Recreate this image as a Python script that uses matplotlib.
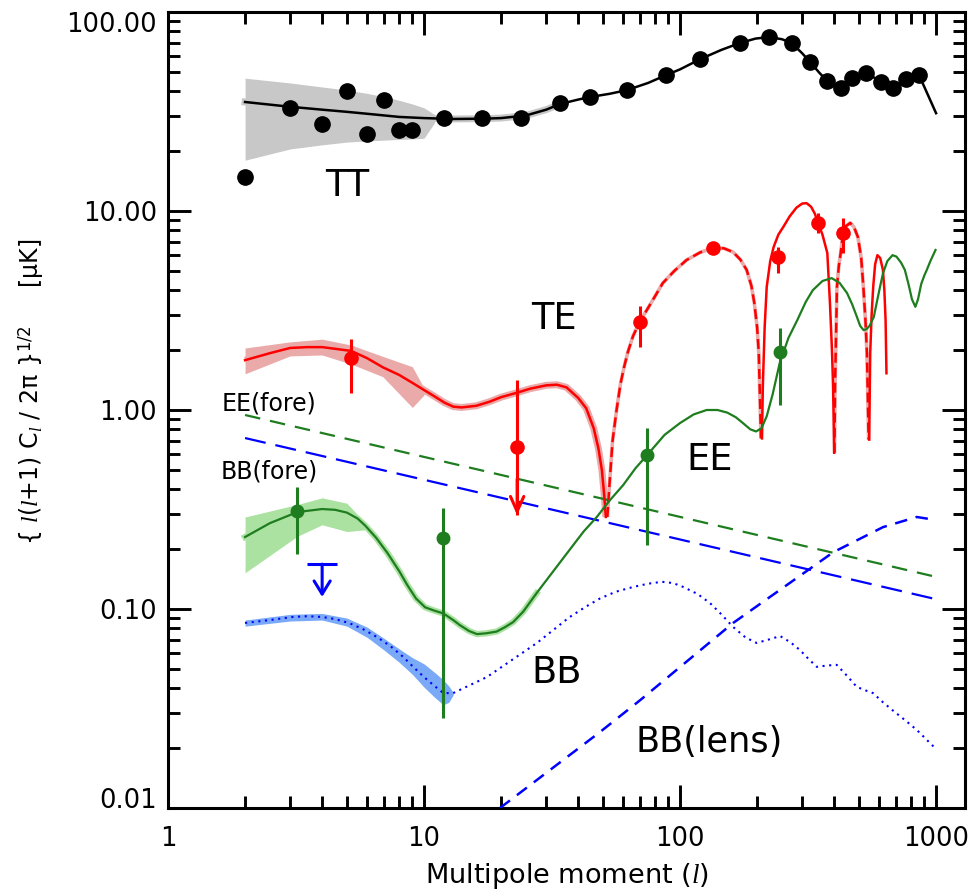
import numpy as np
import matplotlib.pyplot as plt
from matplotlib.ticker import LogLocator, FuncFormatter, NullFormatter

plt.rcParams['font.family'] = ['DejaVu Sans']
plt.rcParams['mathtext.fontset'] = 'custom'
plt.rcParams['mathtext.rm'] = 'DejaVu Sans'
plt.rcParams['mathtext.it'] = 'Liberation Serif:italic'

# --- TT: modelo, faixa e dados ---
tt_curve_l = [2, 3, 4, 5, 6, 8, 10, 13, 17, 20, 25, 30, 34, 40, 44.5, 53, 62, 75, 88.3, 100,
              120, 145, 171, 197, 222, 250, 273, 300, 322, 350, 376, 400, 424, 447, 470, 500,
              533, 570, 610, 645, 679, 720, 763, 810, 858, 1000]
tt_curve_v = [35.3, 33.4, 32.3, 31.5, 30.8, 29.7, 29.3, 29.0, 29.1, 29.3, 30.2, 32.3, 34.5,
              36.3, 37.4, 38.8, 40.5, 44.0, 48.2, 51.5, 58.0, 64.5, 69.8, 73.5, 74.8, 73.0,
              69.8, 62.0, 56.1, 49.5, 45.0, 42.3, 41.5, 44.0, 46.6, 48.5, 49.3, 47.0, 44.5,
              42.3, 41.5, 43.5, 46.0, 47.5, 48.2, 31.0]
tt_band_l = [2, 3, 4, 5, 6, 7, 8, 9, 10, 11]
tt_band_lo = [18.0, 20.5, 21.5, 22.2, 22.5, 22.7, 22.9, 23.0, 23.2, 27.8]
tt_band_hi = [46.5, 44.0, 42.0, 40.5, 39.0, 37.5, 36.0, 34.5, 33.0, 30.5]
tt_data_l = [2, 3, 4, 5, 6, 7, 8, 9, 12, 16.9, 23.9, 34, 44.5, 62, 88.3, 120, 171, 222,
             273, 322, 376, 424, 470, 533, 610, 679, 763, 858]
tt_data_v = [14.8, 33.0, 27.4, 40.1, 24.4, 36.1, 25.5, 25.5, 29.3, 29.3, 29.3, 34.9, 37.4,
             40.5, 48.2, 58.0, 69.8, 74.8, 69.8, 56.1, 45.0, 41.5, 46.6, 49.3, 44.5, 41.5,
             46.0, 48.2]

# --- TE: trechos positivos (cheio) e negativos (tracejado) ---
te_a_l = [2, 2.5, 3, 3.5, 4, 4.5, 5.2, 6, 6.9, 8, 9, 10, 11, 12, 13, 14, 16, 18, 20, 23,
          26, 30, 33, 36, 40, 43, 46, 48, 49.5, 50.5, 51.3]
te_a_v = [1.78, 1.93, 2.05, 2.07, 2.07, 2.03, 1.98, 1.82, 1.64, 1.50, 1.37, 1.26, 1.17,
          1.09, 1.04, 1.03, 1.05, 1.10, 1.16, 1.22, 1.28, 1.33, 1.34, 1.30, 1.15, 1.02,
          0.81, 0.64, 0.50, 0.38, 0.29]
te_b_l = [52, 53, 54.5, 56.5, 58.5, 60.5, 62.5, 65.5, 69.5, 76, 85.7, 95, 106, 120, 134,
          148, 161, 172, 182, 190, 195, 200, 203, 205, 207]
te_b_v = [0.29, 0.42, 0.70, 1.0, 1.35, 1.65, 1.95, 2.35, 2.77, 3.35, 4.35, 5.0, 5.67, 6.2,
          6.5, 6.5, 6.22, 5.7, 5.06, 4.2, 3.45, 2.6, 1.93, 1.2, 0.72]
te_c_l = [209, 210.5, 214, 218, 225, 232, 242, 253, 268, 285, 300, 312, 325, 336, 346,
          360, 376, 385, 392, 396, 400]
te_c_v = [0.72, 1.31, 2.6, 4.15, 5.6, 6.59, 7.6, 8.31, 9.4, 10.4, 10.9, 10.95, 10.5, 9.7,
          8.71, 7.6, 6.15, 3.45, 2.0, 1.31, 0.61]
te_d_l = [401, 403, 407, 410, 417, 424, 432, 445, 462, 478, 495, 510, 520, 530, 537, 541, 545]
te_d_v = [0.61, 1.31, 2.5, 4.15, 5.3, 6.15, 7.5, 8.4, 8.71, 8.3, 7.4, 5.8, 4.15, 2.8, 1.93,
          1.2, 0.71]
te_e_l = [548, 553, 560, 568, 578, 590, 605, 620, 628, 635, 640]
te_e_v = [0.71, 1.93, 3.0, 4.15, 5.4, 6.0, 5.8, 5.06, 4.0, 2.83, 1.53]
te_band_l = [2, 3, 4, 5.2, 6.9, 9, 10]
te_band_lo = [1.52, 1.87, 1.89, 1.70, 1.47, 1.03, 1.19]
te_band_hi = [2.05, 2.20, 2.27, 2.12, 1.86, 1.65, 1.29]
te_data_l = [5.2, 23.1, 69.5, 134, 241, 346, 432]
te_data_v = [1.82, 0.65, 2.77, 6.5, 5.87, 8.71, 7.74]
te_data_lo = [1.22, 0.296, 2.07, 6.5, 4.9, 7.74, 6.15]
te_data_hi = [2.28, 1.42, 3.33, 6.5, 6.6, 9.77, 9.2]
te_lim_l = [23.1]
te_lim_from = [0.45]
te_lim_tip = [0.296]

# --- EE ---
ee_curve_l = [2, 2.5, 3.2, 4, 4.5, 5, 5.5, 5.9, 6.5, 7.2, 8, 8.6, 9.3, 10.1, 11, 11.9, 13,
              13.8, 15, 16.1, 17.5, 19.2, 20.7, 22.3, 24.4, 27.5, 32, 37, 42, 47.3, 53, 60,
              67, 74.4, 87, 100, 113, 127, 140, 153, 165, 176, 188, 198, 208, 218, 230, 245,
              265, 287, 310, 330, 360, 391, 420, 449, 470, 490, 505, 521, 535, 550, 571,
              590, 605, 621, 645, 676, 700, 730, 755, 780, 805, 830, 850, 875, 900, 920,
              950, 995]
ee_curve_v = [0.23, 0.27, 0.307, 0.318, 0.315, 0.305, 0.285, 0.262, 0.228, 0.191, 0.155,
              0.132, 0.113, 0.102, 0.098, 0.095, 0.088, 0.083, 0.0775, 0.0748, 0.0755,
              0.077, 0.081, 0.086, 0.097, 0.12, 0.155, 0.198, 0.245, 0.29, 0.35, 0.42, 0.51,
              0.594, 0.75, 0.86, 0.95, 1.0, 1.0, 0.97, 0.92, 0.86, 0.80, 0.78, 0.81, 0.93,
              1.2, 1.72, 2.3, 2.83, 3.5, 4.0, 4.45, 4.6, 4.35, 3.87, 3.4, 2.95, 2.65, 2.52,
              2.55, 2.65, 2.93, 3.6, 4.2, 4.88, 5.6, 6.0, 5.9, 5.5, 5.06, 4.3, 3.6, 3.3,
              3.6, 4.3, 4.75, 5.06, 5.6, 6.37]
ee_band_l = [2, 3.2, 4, 5, 5.9]
ee_band_lo = [0.152, 0.232, 0.265, 0.245, 0.25]
ee_band_hi = [0.29, 0.335, 0.362, 0.34, 0.27]
ee_data_l = [3.2, 11.9, 74.4, 245]
ee_data_v = [0.31, 0.228, 0.594, 1.95]
ee_data_lo = [0.189, 0.0283, 0.21, 1.06]
ee_data_hi = [0.41, 0.322, 0.81, 2.58]

# --- BB ---
bb_curve_l = [2, 2.5, 3.07, 3.5, 4, 4.5, 5.1, 5.8, 6.55, 7.4, 8.3, 9.1, 10, 11, 11.9, 13,
              17.6, 27.6, 37, 43, 48.7, 56, 65.5, 75, 85, 94, 103, 117, 131, 145, 161, 180,
              199, 220, 246, 270, 294, 318, 342, 375, 409, 450, 490, 530, 567, 620, 676,
              760, 840, 980]
bb_curve_v = [0.0851, 0.088, 0.0912, 0.092, 0.0912, 0.089, 0.085, 0.079, 0.0723, 0.065,
              0.0574, 0.051, 0.0455, 0.041, 0.0378, 0.0378, 0.0455, 0.0675, 0.091, 0.103,
              0.113, 0.122, 0.129, 0.134, 0.137, 0.135, 0.129, 0.119, 0.107, 0.094, 0.0813,
              0.072, 0.0675, 0.070, 0.0731, 0.068, 0.0622, 0.056, 0.0512, 0.052, 0.0524,
              0.046, 0.0406, 0.039, 0.0378, 0.034, 0.031, 0.0275, 0.0247, 0.0203]
bb_band_l = [2, 3, 4, 5, 6, 7, 8, 9, 10, 11, 11.9, 12.5, 13]
bb_band_lo = [0.082, 0.087, 0.088, 0.082, 0.072, 0.062, 0.054, 0.047, 0.0405, 0.036, 0.033,
              0.034, 0.037]
bb_band_hi = [0.088, 0.094, 0.095, 0.090, 0.081, 0.071, 0.063, 0.057, 0.053, 0.048, 0.044,
              0.041, 0.038]
bb_lim_l = [4.0]
bb_lim_v = [0.168]
bb_lim_tip = [0.115]

lens_l = [19.8, 48.7, 70, 161, 397, 621, 840, 1000]
lens_v = [0.01, 0.0241, 0.0349, 0.085, 0.193, 0.258, 0.29, 0.28]

# --- foregrounds ---
ee_fore_l = [2, 1000]
ee_fore_v = [0.944, 0.145]
bb_fore_l = [2, 1000]
bb_fore_v = [0.723, 0.112]

RED = '#ff0000'
PINK = '#ebaaaa'
GREEN = '#1e7d1e'
LGREEN = '#abe2a2'
BLUE = '#0000ff'
LBLUE = '#7aa9f7'

fig = plt.figure(figsize=(9.69, 8.89), dpi=100)
ax = fig.add_axes([0.17337, 0.09111, 0.82250, 0.89539])
ax.set_xscale('log')
ax.set_yscale('log')

# TT
ax.fill_between(tt_band_l, tt_band_lo, tt_band_hi, color='#c8c8c8', lw=0, zorder=1)
tl = np.array(tt_curve_l)
tv = np.array(tt_curve_v)
ax.plot(tl[tl <= 34], tv[tl <= 34], color='#c8c8c8', lw=5, zorder=1.5)
ax.plot(tt_curve_l, tt_curve_v, color='black', lw=1.8, zorder=3)
ax.plot(tt_data_l, tt_data_v, 'o', color='black', ms=11, zorder=4)

# TE (faixa rosa so onde aparece na figura)
ax.fill_between(te_band_l, te_band_lo, te_band_hi, color=PINK, lw=0, zorder=1)
segs = [(te_a_l, te_a_v, '-', 5), (te_b_l, te_b_v, '--', 2.6), (te_c_l, te_c_v, '-', 0),
        (te_d_l, te_d_v, '--', 2.6), (te_e_l, te_e_v, '-', 0)]
for seg_l, seg_v, ls, halo in segs:
    if halo > 0:
        ax.plot(seg_l, seg_v, color=PINK, lw=halo, solid_capstyle='butt', zorder=1.5)
    line, = ax.plot(seg_l, seg_v, color=RED, lw=1.8, zorder=3)
    if ls == '--':
        line.set_dashes([4, 2])
te_v = np.array(te_data_v)
te_err = [te_v - np.array(te_data_lo), np.array(te_data_hi) - te_v]
ax.errorbar(te_data_l, te_data_v, yerr=te_err, fmt='o', color=RED, ms=9.5,
            elinewidth=2.2, capsize=0, zorder=4)
for l, a, b in zip(te_lim_l, te_lim_from, te_lim_tip):
    ax.annotate('', xy=(l, b), xytext=(l, a),
                arrowprops=dict(arrowstyle='->,head_length=0.54,head_width=0.24',
                                color=RED, lw=2.2, mutation_scale=20,
                                shrinkA=0, shrinkB=0), zorder=4)

# EE
ax.fill_between(ee_band_l, ee_band_lo, ee_band_hi, color=LGREEN, lw=0, zorder=1)
el = np.array(ee_curve_l)
ev = np.array(ee_curve_v)
ax.plot(el[el <= 28], ev[el <= 28], color=LGREEN, lw=4.5, zorder=1.5)
ax.plot(ee_curve_l, ee_curve_v, color=GREEN, lw=1.6, zorder=3)
ee_v = np.array(ee_data_v)
ee_err = [ee_v - np.array(ee_data_lo), np.array(ee_data_hi) - ee_v]
ax.errorbar(ee_data_l, ee_data_v, yerr=ee_err, fmt='o', color=GREEN, ms=9,
            elinewidth=2.2, capsize=0, zorder=4)

# BB
ax.fill_between(bb_band_l, bb_band_lo, bb_band_hi, color=LBLUE, lw=0, zorder=1)
ax.plot(bb_curve_l, bb_curve_v, color=BLUE, lw=1.5, ls=(0, (1, 2.2)), zorder=3)
ax.plot(bb_lim_l, bb_lim_v, '_', color=BLUE, ms=22, mew=2.2, zorder=4)
for l, a, b in zip(bb_lim_l, bb_lim_v, bb_lim_tip):
    ax.annotate('', xy=(l, b), xytext=(l, a),
                arrowprops=dict(arrowstyle='->,head_length=0.47,head_width=0.29',
                                color=BLUE, lw=2.2, mutation_scale=20,
                                shrinkA=0, shrinkB=0), zorder=4)
lens, = ax.plot(lens_l, lens_v, color=BLUE, lw=1.8, zorder=3)
lens.set_dashes([5, 3.5])

# foregrounds
f1, = ax.plot(ee_fore_l, ee_fore_v, color=GREEN, lw=1.6, zorder=2)
f1.set_dashes([7, 4.5])
f2, = ax.plot(bb_fore_l, bb_fore_v, color=BLUE, lw=1.6, zorder=2)
f2.set_dashes([9.5, 4.5])

# rotulos das curvas
ax.text(5.0, 13.4, 'TT', fontsize=26.5, ha='center', va='center')
ax.text(32.2, 2.87, 'TE', fontsize=26.5, ha='center', va='center')
ax.text(131, 0.561, 'EE', fontsize=26.5, ha='center', va='center')
ax.text(33.1, 0.0482, 'BB', fontsize=26.5, ha='center', va='center')
ax.text(129.8, 0.0215, 'BB(lens)', fontsize=25.3, ha='center', va='center')
ax.text(1.62, 1.072, 'EE(fore)', fontsize=17, ha='left', va='center')
ax.text(1.60, 0.493, 'BB(fore)', fontsize=17, ha='left', va='center')

# --- eixos ---
ax.set_xlim(1, 1297)
ax.set_ylim(0.01, 100)
ax.xaxis.set_major_locator(LogLocator(base=10, numticks=10))
ax.xaxis.set_minor_locator(LogLocator(base=10, subs=np.arange(2, 10), numticks=20))
ax.yaxis.set_major_locator(LogLocator(base=10, numticks=10))
ax.yaxis.set_minor_locator(LogLocator(base=10, subs=np.arange(2, 10), numticks=20))
ax.xaxis.set_major_formatter(FuncFormatter(lambda v, p: f'{v:g}'))
ax.yaxis.set_major_formatter(FuncFormatter(lambda v, p: f'{v:.2f}'))
ax.xaxis.set_minor_formatter(NullFormatter())
ax.yaxis.set_minor_formatter(NullFormatter())
ax.tick_params(which='both', direction='in', top=True, right=True, width=2.1, labelsize=18.5)
ax.tick_params(which='major', length=16.5)
ax.tick_params(which='minor', length=8.5)
ax.tick_params(axis='x', pad=13)
ax.tick_params(axis='y', pad=8)
for s in ax.spines.values():
    s.set_linewidth(2.2)

ax.set_xlabel('Multipole moment ($l$)', fontsize=19.5)
ax.xaxis.set_label_coords(0.5, -0.066)
ax.set_ylabel('{ $l$($l$+1) C$_l$ / 2π }$^{1/2}$     [μK]', fontsize=17)
ax.yaxis.set_label_coords(-0.152, 0.523)

fig.canvas.draw()
for lab in ax.get_yticklabels():
    if lab.get_text() == '0.01':
        lab.set_va('baseline')
    if lab.get_text() == '100.00':
        lab.set_va('top')

plt.savefig('out.png', dpi=100)
